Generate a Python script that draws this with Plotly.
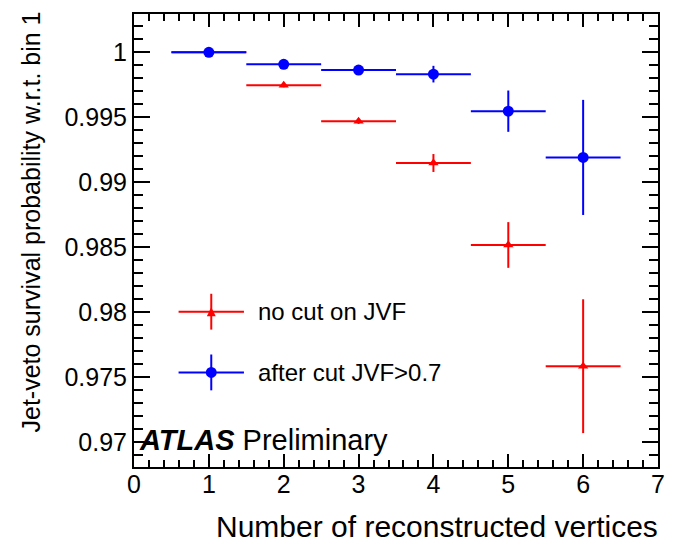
import plotly.graph_objects as go

# Data
vertices = [1, 2, 3, 4, 5, 6]
bin_half_width = [0.5, 0.5, 0.5, 0.5, 0.5, 0.5]
no_cut = [1.0000, 0.99746, 0.99469, 0.99148, 0.98517, 0.97584]
no_cut_err = [0.0001, 0.00015, 0.0002, 0.00069, 0.00176, 0.00515]
after_cut = [1.0000, 0.99908, 0.99863, 0.99832, 0.99547, 0.99191]
after_cut_err = [0.0001, 0.0001, 0.00015, 0.00064, 0.00159, 0.00443]

RED = "#ff0000"
BLUE = "#0000ff"
FONT = "Liberation Sans, Arial, Helvetica, sans-serif"

W, H = 677, 546
ML, MR, MT, MB = 134, 14, 12, 79
PW, PH = W - ML - MR, H - MT - MB

fig = go.Figure()

def add_series(y, err, color, symbol, size, name):
    fig.add_trace(go.Scatter(
        x=vertices, y=y, mode="markers", name=name,
        marker=dict(color=color, symbol=symbol, size=size),
        error_x=dict(type="data", array=bin_half_width, color=color, thickness=2, width=0),
        error_y=dict(type="data", array=err, color=color, thickness=2, width=0),
        showlegend=False,
    ))

add_series(no_cut, no_cut_err, RED, "triangle-up", 9, "no cut on JVF")
add_series(after_cut, after_cut_err, BLUE, "circle", 11, "after cut JVF>0.7")

axis_common = dict(
    showline=True, linecolor="black", linewidth=2, mirror="allticks",
    ticks="inside", tickcolor="black", tickwidth=2,
    showgrid=False, zeroline=False,
    tickfont=dict(family=FONT, size=25, color="black"),
)

fig.update_xaxes(range=[0, 7], dtick=1, tick0=0, ticklen=13, ticklabelstandoff=-6,
                 minor=dict(dtick=0.2, ticks="inside", ticklen=7, tickcolor="black", tickwidth=1.5),
                 **axis_common)
fig.update_yaxes(range=[0.96808, 1.00295], dtick=0.005, tick0=0.97, ticklen=16,
                 tickformat="~g",
                 minor=dict(dtick=0.001, ticks="inside", ticklen=9, tickcolor="black", tickwidth=1.5),
                 **axis_common)

def px_to_paper(px, py):
    return (px - ML) / PW, (H - MB - py) / PH

shapes = []
annotations = []

# Legend entries (keys drawn in paper coordinates)
legend_entries = [("no cut on JVF", RED, "tri", 311), ("after cut JVF>0.7", BLUE, "circ", 372)]
for label, color, kind, py in legend_entries:
    x0, yc = px_to_paper(179, py)
    x1, _ = px_to_paper(245, py)
    xc, _ = px_to_paper(212, py)
    _, ytop = px_to_paper(212, py - 18)
    _, ybot = px_to_paper(212, py + 18)
    shapes.append(dict(type="line", xref="paper", yref="paper", x0=x0, x1=x1, y0=yc, y1=yc,
                       line=dict(color=color, width=2)))
    shapes.append(dict(type="line", xref="paper", yref="paper", x0=xc, x1=xc, y0=ybot, y1=ytop,
                       line=dict(color=color, width=2)))
    if kind == "circ":
        r = 5.5
        shapes.append(dict(type="circle", xref="paper", yref="paper",
                           x0=xc - r / PW, x1=xc + r / PW, y0=yc - r / PH, y1=yc + r / PH,
                           fillcolor=color, line=dict(color=color, width=0)))
    else:
        hx, hy = 4.5 / PW, 4.5 / PH
        shapes.append(dict(type="path", xref="paper", yref="paper",
                           path=f"M {xc - hx} {yc - hy} L {xc + hx} {yc - hy} L {xc} {yc + hy} Z",
                           fillcolor=color, line=dict(color=color, width=0)))
    tx, _ = px_to_paper(257, py)
    annotations.append(dict(xref="paper", yref="paper", x=tx, y=yc, text=label, showarrow=False,
                            xanchor="left", yanchor="middle",
                            font=dict(family=FONT, size=24, color="black")))

ax_, ay_ = px_to_paper(137, 440)
annotations.append(dict(xref="paper", yref="paper", x=ax_, y=ay_,
                        text="<b><i>ATLAS</i></b> Preliminary", showarrow=False,
                        xanchor="left", yanchor="middle",
                        font=dict(family=FONT, size=29, color="black")))

# Axis titles
tx, ty = px_to_paper(30, 7)
annotations.append(dict(xref="paper", yref="paper", x=tx, y=ty, textangle=-90,
                        text="Jet-veto survival probability w.r.t. bin 1", showarrow=False,
                        xanchor="center", yanchor="top",
                        font=dict(family=FONT, size=25, color="black")))
tx, ty = px_to_paper(665, 527)
annotations.append(dict(xref="paper", yref="paper", x=tx, y=ty,
                        text="Number of reconstructed vertices", showarrow=False,
                        xanchor="right", yanchor="middle",
                        font=dict(family=FONT, size=30, color="black")))

fig.update_layout(
    width=W, height=H, margin=dict(l=ML, r=MR, t=MT, b=MB),
    plot_bgcolor="white", paper_bgcolor="white",
    shapes=shapes, annotations=annotations,
    font=dict(family=FONT, color="black"),
)

fig.write_html("out.html")
